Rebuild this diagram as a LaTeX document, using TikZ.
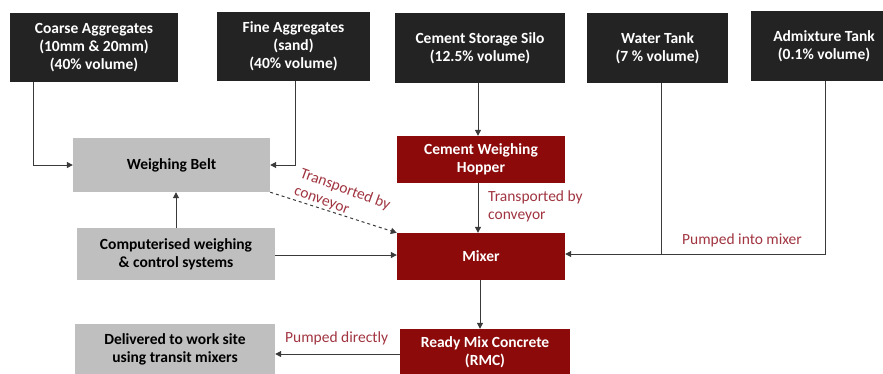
\documentclass[tikz,border=0pt]{standalone}
\usepackage{fontspec}
\setmainfont{Carlito}
\usetikzlibrary{arrows.meta}
\definecolor{boxblack}{HTML}{232323}
\definecolor{boxred}{HTML}{8C0A0A}
\definecolor{boxgray}{HTML}{BFBFBF}
\definecolor{lblred}{HTML}{A03440}
\definecolor{linec}{HTML}{3A3A3A}
\begin{document}
\begin{tikzpicture}[x=1pt,y=-1pt,
  topbox/.style={fill=boxblack,text=white,font=\bfseries\fontsize{15.5}{18}\selectfont,align=center,inner sep=0pt},
  redbox/.style={fill=boxred,text=white,font=\bfseries\fontsize{15.5}{18}\selectfont,align=center,inner sep=0pt},
  graybox/.style={fill=boxgray,text=black,font=\bfseries\fontsize{15.5}{18}\selectfont,align=center,inner sep=0pt},
  conn/.style={draw=linec,line width=1pt,-{Triangle[length=6pt,width=6pt]}},
  lbl/.style={text=lblred,font=\fontsize{15.5}{18}\selectfont,align=left,inner sep=0pt}]
\useasboundingbox (0,0) rectangle (883,373);
% top boxes
\node[topbox,minimum width=168pt,minimum height=69pt] (coarse) at (94,47.5) {Coarse Aggregates\\(10mm \& 20mm)\\(40\% volume)};
\node[topbox,minimum width=153pt,minimum height=69pt] (fine) at (293.5,46.5) {Fine Aggregates\\(sand)\\(40\% volume)};
\node[topbox,minimum width=170pt,minimum height=70pt] (silo) at (480,48) {Cement Storage Silo\\(12.5\% volume)};
\node[topbox,minimum width=141pt,minimum height=70pt] (water) at (657.5,48) {Water Tank\\(7 \% volume)};
\node[topbox,minimum width=146pt,minimum height=70pt] (admix) at (824,46) {Admixture Tank\\(0.1\% volume)};
% middle
\node[graybox,minimum width=197pt,minimum height=54pt] (belt) at (171.5,165) {Weighing Belt};
\node[graybox,minimum width=198pt,minimum height=52pt] (comp) at (176,254) {Computerised weighing\\\& control systems};
\node[graybox,minimum width=200pt,minimum height=50pt] (deliv) at (175,349) {Delivered to work site\\using transit mixers};
\node[redbox,minimum width=168pt,minimum height=47pt] (hopper) at (481,159.5) {Cement Weighing\\Hopper};
\node[redbox,minimum width=168pt,minimum height=47pt] (mixer) at (481,256.5) {Mixer};
\node[redbox,minimum width=170pt,minimum height=46pt] (rmc) at (485,352) {Ready Mix Concrete\\(RMC)};
% connectors
\draw[conn] (coarse.south -| 33,0) |- (belt.west);
\draw[conn] (fine.south -| 295,0) |- (belt.east);
\draw[conn] (silo.south -| 478,0) -- (hopper.north -| 478,0);
\draw[conn] (hopper.south -| 478,0) -- (mixer.north -| 478,0);
\draw[conn] (comp.north) -- (belt.south -| comp.north);
\draw[conn] (comp.east |- 0,255) -- (mixer.west |- 0,255);
\draw[conn,dashed] (belt.south east) -- (mixer.north west);
\coordinate (wj) at (661,254);
\draw[draw=linec,line width=1pt] (water.south -| 661,0) -- (wj);
\draw[conn] (admix.south -| 825,0) |- (mixer.east |- 0,254);
\draw[conn] (mixer.south -| 480,0) -- (rmc.north -| 480,0);
\draw[conn] (rmc.west |- 0,354) -- (deliv.east |- 0,354);
% labels
\node[lbl,anchor=north west] (l1) at (488,191) {Transported by\\conveyor};
\node[lbl,anchor=south west] (l2) at (682,247) {Pumped into mixer};
\node[lbl,anchor=south west] (l3) at (285,345) {Pumped directly};
\node[lbl,anchor=north west,rotate=-20] (l4) at (303,167) {Transported by\\conveyor};
\end{tikzpicture}
\end{document}
